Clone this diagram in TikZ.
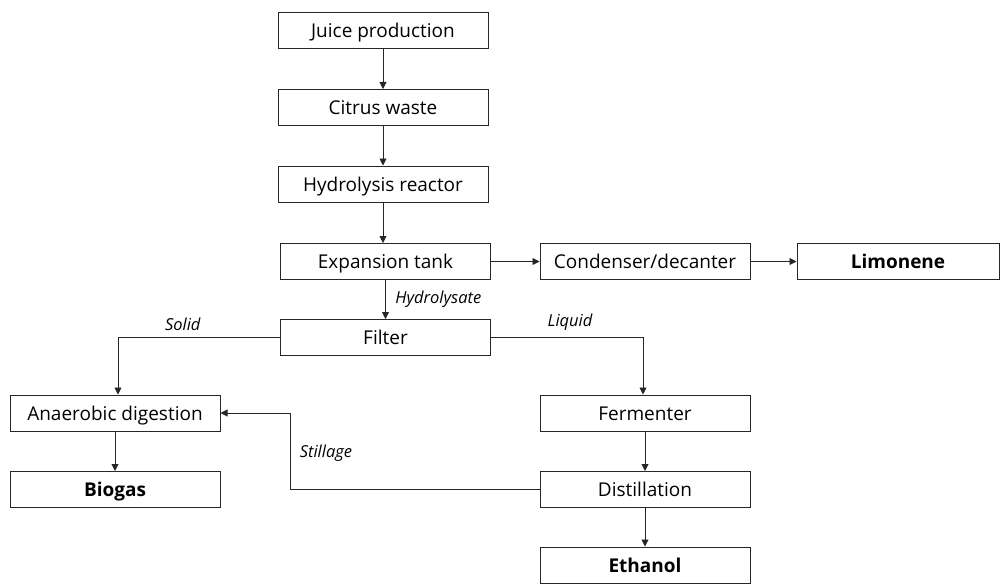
\documentclass[tikz,border=0pt]{standalone}
\usepackage{fontspec}
\setmainfont{Open Sans}
\usetikzlibrary{arrows.meta}
\begin{document}
\begin{tikzpicture}[x=1pt,y=-1pt,
  box/.style={draw=black!85,line width=1pt,minimum width=210pt,minimum height=36pt,inner sep=0pt,text height=15pt,text depth=1pt,font=\fontsize{19}{21}\selectfont},
  bbox/.style={box,font=\fontsize{19}{21}\selectfont\bfseries},
  flow/.style={draw=black!85,line width=0.9pt,-{Triangle[width=7pt,length=7pt]}},
  lab/.style={font=\fontsize{16.5}{18}\selectfont\itshape}]
\useasboundingbox (0,0) rectangle (1000,583);
\node[box] (juice) at (383,31) {Juice production};
\node[box] (waste) at (383,107.5) {Citrus waste};
\node[box] (hydro) at (383,184) {Hydrolysis reactor};
\node[box] (exp) at (385.5,261.5) {Expansion tank};
\node[box] (cond) at (645,261.5) {Condenser/decanter};
\node[bbox,minimum width=202pt] (lim) at (898,261.5) {Limonene};
\node[box] (filt) at (385.5,337.5) {Filter};
\node[box] (anae) at (115,413) {Anaerobic digestion};
\node[box] (ferm) at (645,413) {Fermenter};
\node[bbox] (bio) at (115,489.5) {Biogas};
\node[box] (dist) at (645,489.5) {Distillation};
\node[bbox] (eth) at (645,565) {Ethanol};
\draw[flow] (juice) -- (waste);
\draw[flow] (waste) -- (hydro);
\draw[flow] (hydro) -- (hydro.south |- exp.north);
\draw[flow] (exp) -- (cond);
\draw[flow] (cond) -- (lim);
\draw[flow] (exp) -- node[lab,right=6pt] {Hydrolysate} (filt);
\draw[flow] (filt.west) -| node[lab,pos=0.3,above=3pt] {Solid} ([xshift=3pt]anae.north);
\draw[flow] (filt.east) -| node[lab,pos=0.26,above=3pt] {Liquid} ([xshift=-2pt]ferm.north);
\draw[flow] (ferm) -- (dist);
\draw[flow] (dist) -- (eth);
\draw[flow] (anae) -- (bio);
\coordinate (st) at (290,489.5);
\draw[flow] (dist.west) -- (st) |- node[lab,pos=0.24,right=6pt] {Stillage} (anae.east);
\end{tikzpicture}
\end{document}
